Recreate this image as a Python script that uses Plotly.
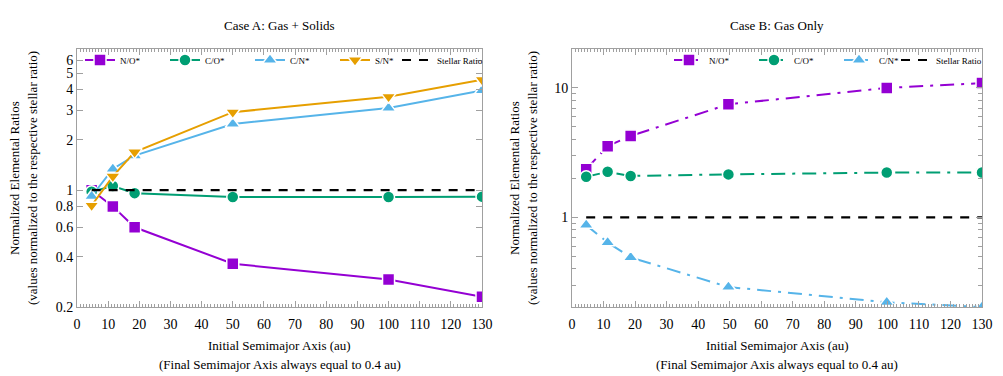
import plotly.graph_objects as go

# ---------------- data ----------------
x_a = [4.7, 11.5, 18.5, 50, 100, 130]
no_a = [1.0, 0.80, 0.60, 0.363, 0.292, 0.23]
co_a = [0.98, 1.06, 0.96, 0.91, 0.91, 0.915]
cn_a = [0.92, 1.34, 1.61, 2.49, 3.10, 3.95]
sn_a = [0.81, 1.21, 1.69, 2.93, 3.63, 4.58]

x_b = [4.5, 11.3, 18.6, 49.6, 99.8, 130]
no_b = [2.36, 3.55, 4.26, 7.48, 10.0, 10.9]
co_b = [2.06, 2.25, 2.09, 2.15, 2.22, 2.22]
cn_b = [0.872, 0.641, 0.491, 0.290, 0.221, 0.203]

stellar_a = [1, 1, 1, 1, 1, 1]
stellar_b = [1, 1, 1, 1, 1, 1]

ytick_a = [0.2, 0.4, 0.6, 0.8, 1, 2, 3, 4, 5, 6]
ytick_b = [1, 10]
yminor_b = [0.2, 0.3, 0.4, 0.5, 0.6, 0.7, 0.8, 0.9, 2, 3, 4, 5, 6, 7, 8, 9, 20]
xticks = [0, 10, 20, 30, 40, 50, 60, 70, 80, 90, 100, 110, 120, 130]

PURPLE = "#9400D3"
GREEN = "#009E73"
BLUE = "#56B4E9"
ORANGE = "#E69F00"
FONT = "Liberation Serif"

W, H = 1003, 376
ML, MR, MT, MB = 77, 21, 49, 69
PW, PH = W - ML - MR, H - MT - MB


def px(x):
    return (x - ML) / PW


def py(y):
    return (H - MB - y) / PH


fig = go.Figure()


def add(x, y, name, color, symbol, xa, ya, legend, dash, size=12):
    fig.add_trace(go.Scatter(
        x=x, y=y, name=name, mode="lines+markers",
        line=dict(color=color, width=2, dash=dash),
        marker=dict(symbol=symbol, size=size, color=color,
                    line=dict(color="white", width=1.5)),
        xaxis=xa, yaxis=ya, legend=legend))


add(x_a, no_a, "N/O*", PURPLE, "square", "x", "y", "legend", "solid", 12)
add(x_a, co_a, "C/O*", GREEN, "circle", "x", "y", "legend", "solid", 12)
add(x_a, cn_a, "C/N*", BLUE, "triangle-up", "x", "y", "legend", "solid", 13)
add(x_a, sn_a, "S/N*", ORANGE, "triangle-down", "x", "y", "legend", "solid", 13)
fig.add_trace(go.Scatter(x=x_a, y=stellar_a, name="Stellar Ratio", mode="lines",
                         line=dict(color="black", width=2.2, dash="9px,8px"),
                         xaxis="x", yaxis="y", legend="legend3"))

dd = "14px,7px,3px,7px"
add(x_b, no_b, "N/O*", PURPLE, "square", "x2", "y2", "legend2", dd, 12)
add(x_b, co_b, "C/O*", GREEN, "circle", "x2", "y2", "legend2", dd, 12)
add(x_b, cn_b, "C/N*", BLUE, "triangle-up", "x2", "y2", "legend2", dd, 13)
fig.add_trace(go.Scatter(x=x_b, y=stellar_b, name="Stellar Ratio", mode="lines",
                         line=dict(color="black", width=2.2, dash="9px,8px"),
                         xaxis="x2", yaxis="y2", legend="legend4"))

axcommon = dict(showgrid=False, zeroline=False, showline=True, linecolor="#a0a0a0",
                linewidth=1, mirror="ticks", ticks="inside", tickcolor="#a0a0a0",
                ticklen=6, automargin=False, tickangle=0,
                tickfont=dict(family=FONT, size=14, color="black"))
xminor = dict(dtick=1, ticklen=3, ticks="inside", tickcolor="#a0a0a0")


def leg(x0, ew):
    return dict(orientation="h", x=px(x0), y=py(60), xanchor="left", yanchor="middle",
                bgcolor="rgba(0,0,0,0)", font=dict(family=FONT, size=9),
                entrywidth=ew, entrywidthmode="pixels", itemwidth=30)


fig.update_layout(
    width=W, height=H, margin=dict(l=ML, r=MR, t=MT, b=MB, autoexpand=False),
    plot_bgcolor="white", paper_bgcolor="white",
    font=dict(family=FONT, color="black"),
    xaxis=dict(domain=[0, px(482)], range=[0, 130], tickvals=xticks, minor=xminor,
               ticklabelstandoff=4, anchor="y", **axcommon),
    yaxis=dict(domain=[0, 1], type="log", range=[-0.699, 0.845], tickvals=ytick_a,
               ticktext=[str(v) for v in ytick_a], anchor="x", **axcommon),
    xaxis2=dict(domain=[px(572), 1], range=[0, 130], tickvals=xticks, minor=xminor,
                ticklabelstandoff=4, anchor="y2", **axcommon),
    yaxis2=dict(domain=[0, 1], type="log", range=[-0.692, 1.301], tickvals=ytick_b,
                ticktext=["1", "10"],
                minor=dict(tickvals=yminor_b, ticklen=4, ticks="inside", tickcolor="#a0a0a0"),
                anchor="x2", **axcommon),
    legend=leg(80, 40),
    legend2=leg(669, 40),
    legend3=leg(397, 0),
    legend4=leg(896, 0),
    showlegend=True,
)

ann = []


def note(text, x, y, angle=0, size=13):
    ann.append(dict(text=text, x=px(x), y=py(y), xref="paper", yref="paper",
                    showarrow=False, textangle=angle, xanchor="center", yanchor="middle",
                    font=dict(family=FONT, size=size, color="black")))


note("Case A: Gas + Solids", 279.5, 25)
note("Case B: Gas Only", 777, 25)
for cx in [279.5, 777]:
    note("Initial Semimajor Axis (au)", cx, 345)
    note("(Final Semimajor Axis always equal to 0.4 au)", cx, 364)
for cx in [14, 514]:
    note("Normalized Elemental Ratios", cx, 178, -90)
    note("(values normalized to the respective stellar ratio)", cx + 18, 178, -90)
fig.update_layout(annotations=ann)

fig.write_html("out.html", config={"displayModeBar": False},
               post_script="document.body.style.margin='0';document.body.style.padding='0';")
